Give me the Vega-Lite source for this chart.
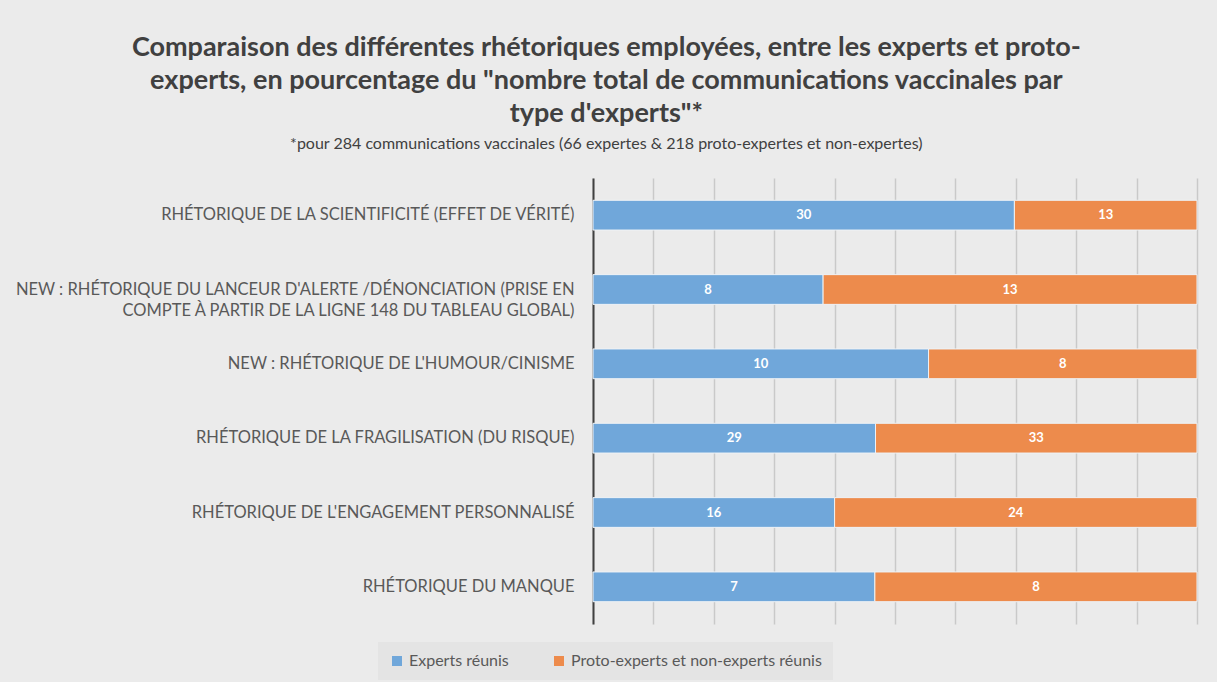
{
  "$schema": "https://vega.github.io/schema/vega-lite/v6.json",
  "width": 1217,
  "height": 682,
  "autosize": {"type": "fit", "contains": "padding"},
  "padding": {"left": 15, "right": 19, "top": 34, "bottom": 58},
  "background": "#ebebeb",
  "config": {"view": {"stroke": null}, "font": "Lato"},
  "title": {
    "text": ["Comparaison des différentes rhétoriques employées, entre les experts et proto-", "experts, en pourcentage du \"nombre total de communications vaccinales par", "type d'experts\"*"],
    "subtitle": "*pour 284 communications vaccinales (66 expertes & 218 proto-expertes et non-expertes)",
    "font": "Lato",
    "fontSize": 27,
    "fontWeight": "bold",
    "color": "#404040",
    "lineHeight": 33,
    "subtitleFont": "Lato",
    "subtitleFontSize": 16,
    "subtitleColor": "#404040",
    "subtitlePadding": 8,
    "offset": 25,
    "anchor": "middle",
    "frame": "bounds"
  },
  "data": {
    "values": [
      {"rhetorique": "RHÉTORIQUE DE LA SCIENTIFICITÉ  (EFFET DE VÉRITÉ)", "groupe": "Experts réunis", "ordre": 1, "n": 30},
      {"rhetorique": "RHÉTORIQUE DE LA SCIENTIFICITÉ  (EFFET DE VÉRITÉ)", "groupe": "Proto-experts et non-experts réunis", "ordre": 2, "n": 13},
      {"rhetorique": "NEW : RHÉTORIQUE DU LANCEUR D'ALERTE /DÉNONCIATION (PRISE EN\nCOMPTE À PARTIR DE LA LIGNE 148 DU TABLEAU GLOBAL)", "groupe": "Experts réunis", "ordre": 1, "n": 8},
      {"rhetorique": "NEW : RHÉTORIQUE DU LANCEUR D'ALERTE /DÉNONCIATION (PRISE EN\nCOMPTE À PARTIR DE LA LIGNE 148 DU TABLEAU GLOBAL)", "groupe": "Proto-experts et non-experts réunis", "ordre": 2, "n": 13},
      {"rhetorique": "NEW : RHÉTORIQUE DE L'HUMOUR/CINISME", "groupe": "Experts réunis", "ordre": 1, "n": 10},
      {"rhetorique": "NEW : RHÉTORIQUE DE L'HUMOUR/CINISME", "groupe": "Proto-experts et non-experts réunis", "ordre": 2, "n": 8},
      {"rhetorique": "RHÉTORIQUE DE LA FRAGILISATION (DU RISQUE)", "groupe": "Experts réunis", "ordre": 1, "n": 29},
      {"rhetorique": "RHÉTORIQUE DE LA FRAGILISATION (DU RISQUE)", "groupe": "Proto-experts et non-experts réunis", "ordre": 2, "n": 33},
      {"rhetorique": "RHÉTORIQUE DE L'ENGAGEMENT PERSONNALISÉ", "groupe": "Experts réunis", "ordre": 1, "n": 16},
      {"rhetorique": "RHÉTORIQUE DE L'ENGAGEMENT PERSONNALISÉ", "groupe": "Proto-experts et non-experts réunis", "ordre": 2, "n": 24},
      {"rhetorique": "RHÉTORIQUE DU MANQUE", "groupe": "Experts réunis", "ordre": 1, "n": 7},
      {"rhetorique": "RHÉTORIQUE DU MANQUE", "groupe": "Proto-experts et non-experts réunis", "ordre": 2, "n": 8}
    ]
  },
  "encoding": {
    "y": {
      "field": "rhetorique",
      "type": "nominal",
      "sort": null,
      "scale": {"paddingInner": 0.6, "paddingOuter": 0.3},
      "axis": {
        "title": null,
        "labelFont": "Lato",
        "labelFontSize": 16.5,
        "labelColor": "#595959",
        "labelPadding": 19,
        "labelLimit": 0,
        "labelLineHeight": 21,
        "labelExpr": "split(datum.label, '\\n')",
        "ticks": false,
        "domain": true,
        "domainColor": "#404040",
        "domainWidth": 2
      }
    }
  },
  "layer": [
    {
      "mark": {"type": "bar", "stroke": "#eef2f6", "strokeWidth": 1},
      "encoding": {
        "x": {
          "field": "n",
          "type": "quantitative",
          "stack": "normalize",
          "scale": {"domain": [0, 1]},
          "axis": {
            "title": null,
            "labels": false,
            "ticks": false,
            "domain": false,
            "grid": true,
            "gridColor": "#c9c9c9",
            "gridWidth": 1.5,
            "values": [0, 0.1, 0.2, 0.3, 0.4, 0.5, 0.6, 0.7, 0.8, 0.9, 1]
          }
        },
        "order": {"field": "ordre", "type": "quantitative"},
        "color": {
          "field": "groupe",
          "type": "nominal",
          "scale": {"domain": ["Experts réunis", "Proto-experts et non-experts réunis"], "range": ["#70a7da", "#ed8b4c"]},
          "legend": {
            "title": null,
            "orient": "none",
            "direction": "horizontal",
            "legendX": -215,
            "legendY": 464,
            "symbolType": "square",
            "symbolSize": 100,
            "symbolStrokeWidth": 0,
            "labelFont": "Lato",
            "labelFontSize": 16,
            "labelColor": "#595959",
            "labelLimit": 0,
            "columnPadding": 42,
            "fillColor": "#e4e4e4",
            "padding": 11
          }
        }
      }
    },
    {
      "transform": [
        {"stack": "n", "groupby": ["rhetorique"], "sort": [{"field": "ordre"}], "offset": "normalize", "as": ["s0", "s1"]},
        {"calculate": "(datum.s0 + datum.s1) / 2", "as": "mid"}
      ],
      "mark": {"type": "text", "color": "white", "fontWeight": "bold", "fontSize": 13, "font": "Lato"},
      "encoding": {
        "x": {"field": "mid", "type": "quantitative"},
        "text": {"field": "n", "type": "quantitative"}
      }
    }
  ]
}
